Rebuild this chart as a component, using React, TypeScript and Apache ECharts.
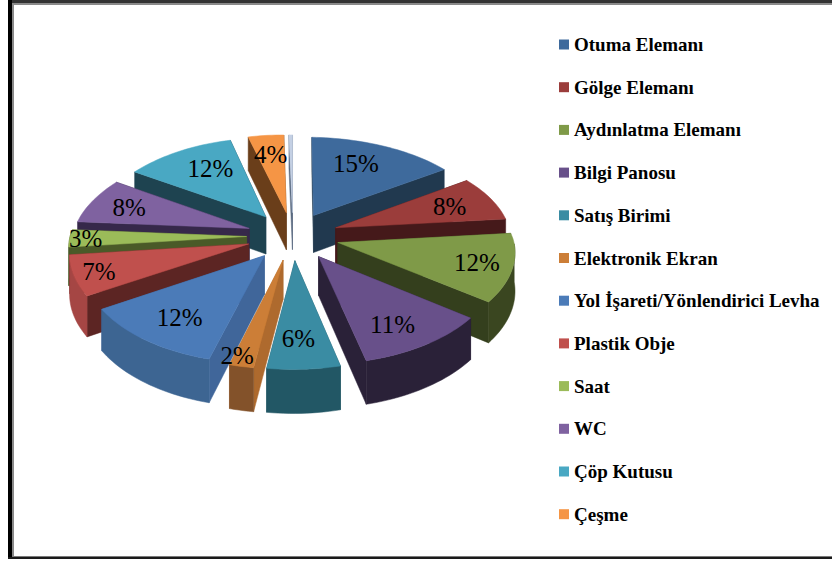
import React, { useEffect, useRef } from "react";
import * as echarts from "echarts";

const categories = [
  "Otuma Elemanı",
  "Gölge Elemanı",
  "Aydınlatma Elemanı",
  "Bilgi Panosu",
  "Satış Birimi",
  "Elektronik Ekran",
  "Yol İşareti/Yönlendirici Levha",
  "Plastik Obje",
  "Saat",
  "WC",
  "Çöp Kutusu",
  "Çeşme",
];
const values = [15, 8, 12, 11, 6, 2, 12, 7, 3, 8, 12, 4];
const unnamedValue = 0.4;

const topColors = ["#3E6A9C", "#9B3D3B", "#7F9A48", "#68508A", "#3A8CA3", "#CC7E37", "#4B7BB8", "#C0504D", "#9BBB59", "#7F62A0", "#49A8C3", "#F59545", "#C4D0E4"];
const radialColors = ["#21394F", "#45191A", "#343F1D", "#2A2138", "#225765", "#AE6A2E", "#40669A", "#5C2523", "#4A5A28", "#36284A", "#1E4350", "#6A3E1A", "#5A6A80"];
const arcColors = ["#21394F", "#45191A", "#3A4620", "#2A2138", "#225765", "#83522A", "#3D6592", "#A54644", "#4A5A28", "#36284A", "#1E4350", "#6A3E1A", "#5A6A80"];
const labelFractions = [0.7, 0.73, 0.8, 0.76, 0.74, 0.92, 0.74, 0.86, 0.91, 0.76, 0.69, 0.74];
const labelSpans = [0.417, 0.5, 0.5, 0.575, 0.55, 0.86, 0.48, 0.5, 0.5, 0.5, 0.6, 0.5];

const CX = 293, CY = 236, R = 91, EXPLODE = 24, DEPTH = 38, SX = 1.93, PX = 0.001, PY = 0.0012, SHEAR = 0.07, ROLL = 0.03, BACK_LEFT = 0.0008;
const allValues = [...values, unnamedValue];
const total = allValues.reduce((a, b) => a + b, 0);

function project(X: number, Y: number, z: number): number[] {
  const dx = 1 - PX * Y;
  const dy = 1 - PY * Y;
  const squeeze = X < 0 && Y < 0 ? 1 + BACK_LEFT * Y : 1;
  return [CX + (SX * X * squeeze) / dx - SHEAR * Math.max(Y, 0), CY + (Y + z) / dy + ROLL * X];
}
function bounds(i: number): number[] {
  const before = allValues.slice(0, i).reduce((a, b) => a + b, 0);
  const a0 = (before / total) * Math.PI * 2;
  const a1 = ((before + allValues[i]) / total) * Math.PI * 2;
  return [a0, a1, (a0 + a1) / 2];
}
function offset(i: number): number[] {
  const mid = bounds(i)[2];
  return [EXPLODE * Math.sin(mid), -EXPLODE * Math.cos(mid)];
}

function renderSlice(i: number) {
  const [a0, a1] = bounds(i);
  const [ox, oy] = offset(i);
  const pt = (a: number, r: number, z: number) => project(ox + r * Math.sin(a), oy - r * Math.cos(a), z);
  const steps = Math.max(2, Math.ceil((a1 - a0) / 0.03));
  const angles: number[] = [];
  for (let s = 0; s <= steps; s++) angles.push(a0 + ((a1 - a0) * s) / steps);

  const poly = (points: number[][], fill: string) => ({
    type: "polygon",
    silent: true,
    shape: { points },
    style: { fill, stroke: fill, lineWidth: 0.5 },
  });

  const wall = (a: number) => {
    const y = -Math.cos(a) * R;
    return { y, el: poly([pt(0, 0, 0), pt(a, R, 0), pt(a, R, DEPTH), pt(0, 0, DEPTH)], radialColors[i]) };
  };
  const walls = [wall(a0), wall(a1)].sort((p, q) => p.y - q.y).map((w) => w.el);

  const front = angles.filter((a) => Math.cos(a) < 0.02);
  const children: any[] = [...walls];
  if (front.length > 1) {
    const upper = front.map((a) => pt(a, R, 0));
    const lower = front.map((a) => pt(a, R, DEPTH)).reverse();
    children.push(poly([...upper, ...lower], arcColors[i]));
  }
  children.push(poly([pt(0, 0, 0), ...angles.map((a) => pt(a, R, 0))], topColors[i]));
  return { type: "group", children };
}

function renderLabel(params: any, api: any) {
  const i = params.dataIndex;
  const [a0, a1] = bounds(i);
  const a = a0 + (a1 - a0) * labelSpans[i];
  const [ox, oy] = offset(i);
  const r = R * labelFractions[i];
  const [x, y] = project(ox + r * Math.sin(a), oy - r * Math.cos(a), 0);
  return {
    type: "text",
    silent: true,
    x,
    y,
    style: {
      text: `${api.value(0)}%`,
      fill: "#000",
      font: '25px "Liberation Serif"',
      textAlign: "center",
      textVerticalAlign: "middle",
    },
  };
}

function buildSeries() {
  const order = allValues.map((_, i) => i).sort((p, q) => offset(p)[1] - offset(q)[1]);
  const slices = order.map((i) => ({
    type: "custom",
    name: i < categories.length ? categories[i] : "-",
    coordinateSystem: "none",
    silent: true,
    data: [allValues[i]],
    itemStyle: { color: topColors[i] },
    renderItem: () => renderSlice(i),
  }));
  return [
    ...slices,
    { type: "custom", name: "labels", coordinateSystem: "none", silent: true, data: values, renderItem: renderLabel },
  ];
}

const frame = [
  { x: 8, y: 0, w: 824, h: 3, c: "#333333" },
  { x: 12, y: 3, w: 820, h: 2, c: "#8A8A8A" },
  { x: 8, y: 0, w: 4, h: 559, c: "#000000" },
  { x: 12, y: 3, w: 2, h: 554, c: "#8A8A8A" },
  { x: 12, y: 556, w: 820, h: 1, c: "#7A7A7A" },
  { x: 8, y: 557, w: 824, h: 2, c: "#1A1A1A" },
];

export default function App() {
  const ref = useRef<HTMLDivElement>(null);
  useEffect(() => {
    const chart = echarts.init(ref.current!, null, { renderer: "svg" });
    chart.setOption({
      animation: false,
      backgroundColor: "#fff",
      legend: {
        data: categories,
        orient: "vertical",
        left: 559,
        top: 35,
        padding: 0,
        icon: "rect",
        itemWidth: 10,
        itemHeight: 10,
        itemGap: 23.7,
        selectedMode: false,
        textStyle: { fontFamily: "Liberation Serif", fontWeight: "bold", fontSize: 19, color: "#000" },
      },
      graphic: frame.map((f) => ({
        type: "rect",
        silent: true,
        shape: { x: f.x, y: f.y, width: f.w, height: f.h },
        style: { fill: f.c },
      })),
      series: buildSeries(),
    });
    return () => chart.dispose();
  }, []);
  return <div ref={ref} style={{ position: "absolute", left: 0, top: 0, width: 832, height: 561 }} />;
}
